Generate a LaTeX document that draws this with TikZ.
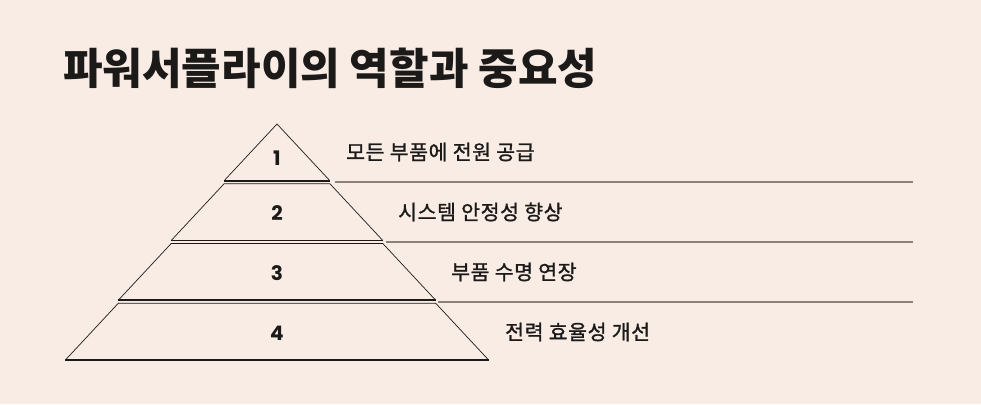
\documentclass[tikz,border=0pt]{standalone}
\usepackage{fontspec}
\usepackage{tikz}
\usetikzlibrary{positioning}
\newfontfamily\krfont{Noto Sans CJK KR}
\newfontfamily\kritem{Noto Sans CJK KR}[FakeBold=1.2, LetterSpace=3]
\newfontfamily\numfont{Poppins}
\definecolor{paper}{HTML}{F8ECE5}
\definecolor{ink}{HTML}{1C1A19}
\definecolor{rule}{HTML}{8C8079}

\begin{document}
\begin{tikzpicture}[x=1pt, y=-1pt,
  layer/.style={draw=ink, line width=0.7pt, line join=miter},
  base/.style={draw=ink, line width=1.8pt},
  sep/.style={draw=rule, line width=2pt},
  num/.style={text=ink, font=\numfont\bfseries\fontsize{20}{20}\selectfont},
  item/.style={text=ink, anchor=west, inner sep=0pt, font=\kritem\fontsize{20.5}{20.5}\selectfont}]
\fill[paper] (0,0) rectangle (981,404);
\useasboundingbox (0,0) rectangle (981,404);
\def\cx{277}

\node[anchor=west, inner sep=0pt, text=ink, font=\krfont\bfseries\fontsize{43}{43}\selectfont] (title) at (63, 68) {파워서플라이의 역할과 중요성};

% layer 1 (top)
\coordinate (t1) at (\cx, 124);
\coordinate (l1) at (\cx-52.9, 180.75);
\coordinate (r1) at (\cx+52.9, 180.75);
\draw[layer] (l1) -- (t1) -- (r1);
\draw[base] (l1) -- (r1);

% layer 2
\coordinate (tl2) at (\cx-52.9, 183.75);
\coordinate (tr2) at (\cx+52.9, 183.75);
\coordinate (l2) at (\cx-105.8, 240.5);
\coordinate (r2) at (\cx+105.8, 240.5);
\draw[layer] (l2) -- (tl2) -- (tr2) -- (r2);
\draw[base] (l2) -- (r2);

% layer 3
\coordinate (tl3) at (\cx-105.8, 243.5);
\coordinate (tr3) at (\cx+105.8, 243.5);
\coordinate (l3) at (\cx-158.7, 300.25);
\coordinate (r3) at (\cx+158.7, 300.25);
\draw[layer] (l3) -- (tl3) -- (tr3) -- (r3);
\draw[base] (l3) -- (r3);

% layer 4 (bottom)
\coordinate (tl4) at (\cx-158.7, 303.25);
\coordinate (tr4) at (\cx+158.7, 303.25);
\coordinate (l4) at (\cx-211.6, 360);
\coordinate (r4) at (\cx+211.6, 360);
\draw[layer] (l4) -- (tl4) -- (tr4) -- (r4);
\draw[base] (l4) -- (r4);

\node[num] (n1) at (\cx, 158) {1};
\node[num] (n2) at (\cx, 213) {2};
\node[num] (n3) at (\cx, 273) {3};
\node[num] (n4) at (\cx, 333) {4};

% separators
\coordinate (s1a) at (335, 181.5);
\coordinate (s1b) at (913, 181.5);
\coordinate (s2a) at (386, 241.5);
\coordinate (s2b) at (913, 241.5);
\coordinate (s3a) at (438, 301.5);
\coordinate (s3b) at (913, 301.5);
\draw[sep] (s1a) -- (s1b);
\draw[sep] (s2a) -- (s2b);
\draw[sep] (s3a) -- (s3b);

\node[item] (i1) at (346, 152) {모든 부품에 전원 공급};
\node[item] (i2) at (398, 212) {시스템 안정성 향상};
\node[item] (i3) at (451, 272) {부품 수명 연장};
\node[item] (i4) at (505, 332) {전력 효율성 개선};
\end{tikzpicture}
\end{document}
